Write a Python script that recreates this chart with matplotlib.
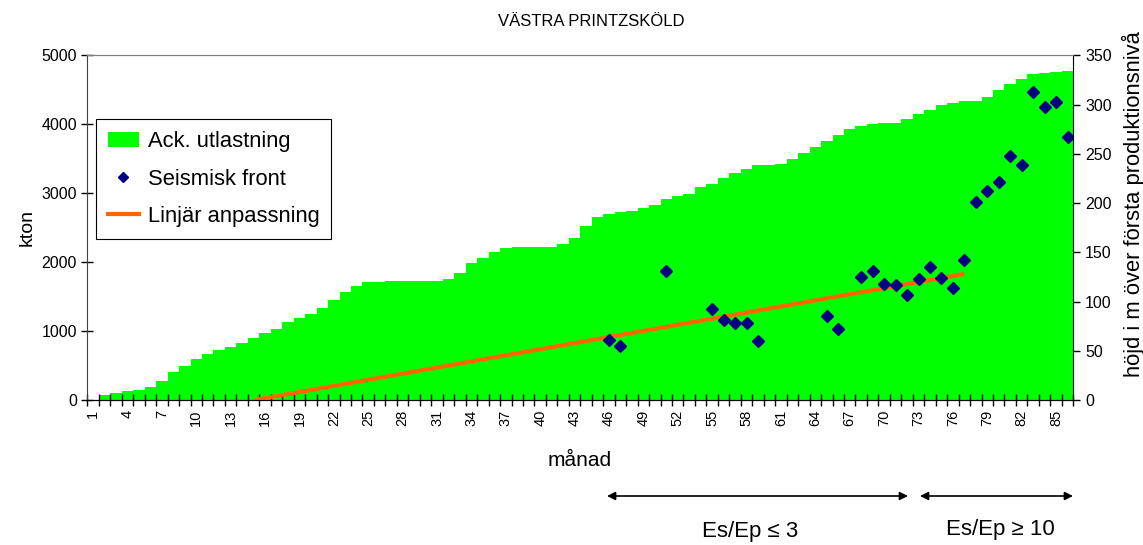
import numpy as np
import matplotlib
matplotlib.use("Agg")
from matplotlib import pyplot as plt
from matplotlib.lines import Line2D
from matplotlib.patches import Patch

plt.rcParams['font.family'] = ['Liberation Sans', 'DejaVu Sans']

# ackumulerad utlastning per månad (kton)
manad = np.arange(1, 87)
ack_utlastning = [
    0, 68, 106, 126, 145, 193, 275, 401, 488, 589,
    671, 729, 763, 831, 899, 966, 1034, 1126, 1188, 1246,
    1328, 1449, 1570, 1657, 1705, 1710, 1720, 1722, 1722, 1725,
    1728, 1758, 1845, 1984, 2053, 2152, 2208, 2225, 2225, 2225,
    2225, 2260, 2345, 2520, 2655, 2705, 2725, 2744, 2792, 2828,
    2911, 2955, 2986, 3092, 3140, 3217, 3299, 3348, 3408, 3410,
    3430, 3502, 3584, 3671, 3758, 3841, 3932, 3981, 4010, 4024,
    4024, 4082, 4155, 4213, 4275, 4309, 4343, 4343, 4396, 4502,
    4589, 4657, 4725, 4744, 4754, 4773,
]

# seismisk front, höjd i m över första produktionsnivå
seis_manad = [46, 47, 51, 55, 56, 57, 58, 59, 65, 66, 68, 69, 70, 71, 72,
              73, 74, 75, 76, 77, 78, 79, 80, 81, 82, 83, 84, 85, 86]
seis_hojd = [61, 55, 131, 92, 81, 78, 78, 60, 85, 72, 125, 131, 118, 117, 107,
             123, 135, 124, 114, 142, 201, 212, 221, 248, 239, 313, 298, 303, 267]

# linjär anpassning
fit_manad = [15.1, 77]
fit_hojd = [0, 128]

W, H = 1143, 545
fig = plt.figure(figsize=(W / 100, H / 100), dpi=100)
ax = fig.add_axes([0.0764, 0.2661, 0.9390 - 0.0764, 0.8985 - 0.2661])
ax2 = ax.twinx()

ax.bar(manad, ack_utlastning, width=1.0, color='#00ff00', linewidth=0)
ax2.plot(fit_manad, fit_hojd, color='#ff6600', lw=3, solid_capstyle='butt')
ax2.plot(seis_manad, seis_hojd, 'D', color='#000080', ms=6.5, ls='none')

ax.set_xlim(0.5, 86.5)
ax.set_ylim(0, 5000)
ax2.set_ylim(0, 350)

ax.set_yticks(np.arange(0, 5001, 1000))
ax2.set_yticks(np.arange(0, 351, 50))

# x-axeln: streck mellan månaderna, etikett var tredje månad
ax.set_xticks(np.arange(0.5, 87, 1))
ax.set_xticklabels([])
ax.set_xticks(manad[::3], minor=True)
ax.set_xticklabels([str(m) for m in manad[::3]], minor=True, rotation=90,
                   fontsize=10.5)
ax.tick_params(axis='x', which='major', direction='inout', length=8, width=1)
ax.tick_params(axis='x', which='minor', length=0, pad=7)
ax.tick_params(axis='y', direction='inout', length=8, width=1, labelsize=11.5)
ax2.tick_params(axis='y', direction='out', length=5, width=1, labelsize=11.5)

ax.spines['top'].set_color('#808080')
ax2.spines['top'].set_color('#808080')
ax.spines['left'].set_color('#404040')
ax2.spines['left'].set_visible(False)
ax.spines['right'].set_visible(False)

ax.set_ylabel('kton', fontsize=14, labelpad=4)
fig.text(1133 / W, 1 - 204 / H, 'höjd i m över första produktionsnivå',
         rotation=90, ha='center', va='center', fontsize=15.8)
fig.text(580 / W, 1 - 460 / H, 'månad', ha='center', va='center', fontsize=15)
fig.text(591 / W, 1 - 22 / H, 'VÄSTRA PRINTZSKÖLD', ha='center', va='center',
         fontsize=12)

handles = [Patch(facecolor='#00ff00', edgecolor='none'),
           Line2D([], [], marker='D', color='#000080', ms=5, ls='none'),
           Line2D([], [], color='#ff6600', lw=3)]
labels = ['Ack. utlastning', 'Seismisk front', 'Linjär anpassning']
leg = ax2.legend(handles, labels, loc='upper left',
                 bbox_to_anchor=(0.0088, 0.815), borderaxespad=0,
                 fontsize=15.8, frameon=True, fancybox=False,
                 edgecolor='black', framealpha=1, labelspacing=0.75,
                 handlelength=1.4, handletextpad=0.4, borderpad=0.55)
leg.get_frame().set_linewidth(0.8)

# intervall för Es/Ep under diagrammet
arrow = dict(arrowstyle='<|-|>', color='black', lw=1.2, mutation_scale=12,
             shrinkA=0, shrinkB=0)
fig.add_artist(plt.Annotation('', xy=(607 / W, 1 - 496 / H),
                              xytext=(908 / W, 1 - 496 / H),
                              xycoords='figure fraction', arrowprops=arrow))
fig.add_artist(plt.Annotation('', xy=(920 / W, 1 - 496 / H),
                              xytext=(1073 / W, 1 - 496 / H),
                              xycoords='figure fraction', arrowprops=arrow))
fig.text(750 / W, 1 - 532 / H, 'Es/Ep ≤ 3', ha='center', va='center',
         fontsize=16)
fig.text(1000 / W, 1 - 530 / H, 'Es/Ep ≥ 10', ha='center', va='center',
         fontsize=16)

fig.savefig('out.png', dpi=100)
